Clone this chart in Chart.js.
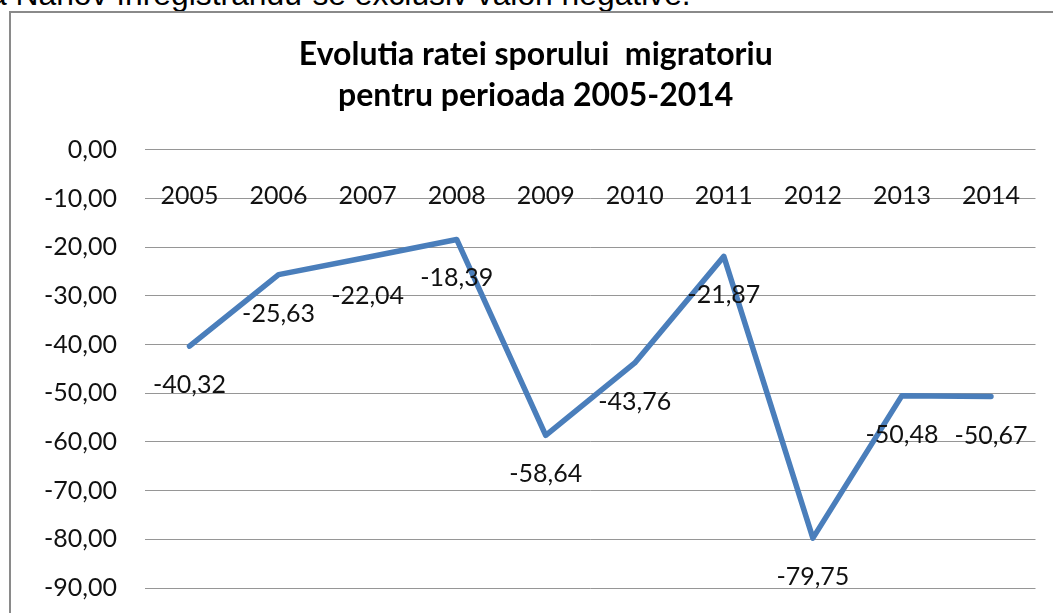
<!DOCTYPE html>
<html>
<head>
<meta charset="utf-8">
<script src="https://cdn.jsdelivr.net/npm/chart.js@4.4.1/dist/chart.umd.min.js"></script>
<style>
  html, body { margin: 0; padding: 0; background: #fff; overflow: hidden; }
  #page { position: relative; width: 1053px; height: 613px; overflow: hidden; }
  #topText { position: absolute; left: -11px; top: -21.5px; font: 31.8px "Liberation Sans", Arial, sans-serif; line-height: 31.5px; color: #000; white-space: nowrap; }
  #frame { position: absolute; left: 9px; top: 11px; width: 1100px; height: 700px; border: 2px solid #8a8a8a; box-sizing: border-box; }
  #chart { position: absolute; left: 0; top: 0; }
</style>
</head>
<body>
<div id="page">
  <div id="topText">ă Nanov înregistrându-se exclusiv valori negative.</div>
  <div id="frame"></div>
  <canvas id="chart" width="1053" height="631"></canvas>
</div>
<script>
// --- chart data ---
const years = ['2005', '2006', '2007', '2008', '2009', '2010', '2011', '2012', '2013', '2014'];
const migrationRate = [-40.32, -25.63, -22.04, -18.39, -58.64, -43.76, -21.87, -79.75, -50.48, -50.67];
const titleLines = ['Evolutia ratei sporului  migratoriu', 'pentru perioada 2005-2014'];
const yMin = -90, yMax = 0, yStep = 10;

const fmt = v => v.toFixed(2).replace('.', ',');
const labelFont = '25px Lato, "Open Sans", sans-serif';

// values printed under each point
const pointLabels = {
    id: 'pointLabels',
    afterDatasetsDraw(chart) {
        const ctx = chart.ctx;
        const meta = chart.getDatasetMeta(0);
        ctx.save();
        ctx.font = labelFont;
        ctx.fillStyle = '#111';
        ctx.textAlign = 'center';
        ctx.textBaseline = 'middle';
        meta.data.forEach((pt, i) => {
            ctx.fillText(fmt(migrationRate[i]), pt.x, pt.y + 39);
        });
        ctx.restore();
    }
};

new Chart(document.getElementById('chart'), {
    type: 'line',
    data: {
        labels: years,
        datasets: [{
            data: migrationRate,
            borderColor: '#4a7ebb',
            borderWidth: 5.5,
            borderJoinStyle: 'round',
            borderCapStyle: 'round',
            pointRadius: 0,
            tension: 0,
            fill: false
        }]
    },
    options: {
        responsive: false,
        animation: false,
        layout: { padding: { left: 36, right: 17.5, top: 0, bottom: 7 } },
        plugins: {
            legend: { display: false },
            tooltip: { enabled: false },
            title: {
                display: true,
                text: titleLines,
                color: '#000',
                font: { family: 'Lato, "Open Sans", sans-serif', size: 32, weight: 'bold', lineHeight: 1.28 },
                padding: { top: 34.5, bottom: 33.5 }
            }
        },
        scales: {
            x: {
                position: { y: 0 },
                offset: true,
                grid: { display: false },
                border: { display: false },
                ticks: { color: '#111', font: { family: 'Lato, "Open Sans", sans-serif', size: 25 }, padding: 23, maxRotation: 0 }
            },
            y: {
                min: yMin,
                max: yMax,
                afterFit: s => { s.width = 109; },
                grid: { color: '#969696', lineWidth: 1, drawTicks: false },
                border: { display: false },
                ticks: { stepSize: yStep, color: '#111', padding: 28, font: { family: 'Lato, "Open Sans", sans-serif', size: 25 }, callback: v => fmt(v) }
            }
        }
    },
    plugins: [pointLabels]
});
</script>
</body>
</html>
